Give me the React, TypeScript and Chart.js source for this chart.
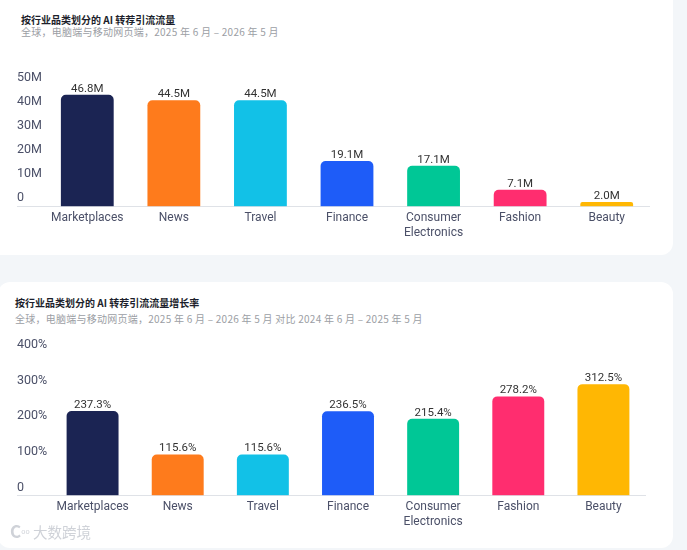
import React, { useEffect, useRef } from "react";
import { Chart, registerables } from "chart.js";

Chart.register(...registerables);

const categories = ["Marketplaces", "News", "Travel", "Finance", "Consumer Electronics", "Fashion", "Beauty"];
const trafficValues = [46.8, 44.5, 44.5, 19.1, 17.1, 7.1, 2.0];
const growthValues = [237.3, 115.6, 115.6, 236.5, 215.4, 278.2, 312.5];
const barColors = ["#1b2453", "#fe7b1c", "#12c1e7", "#1e5cf8", "#00c796", "#ff2d6f", "#ffb703"];
const trafficTicks = [0, 10, 20, 30, 40, 50];
const growthTicks = [0, 100, 200, 300, 400];

const title1 = "按行业品类划分的 AI 转荐引流流量";
const subtitle1 = "全球，电脑端与移动网页端，2025 年 6 月 – 2026 年 5 月";
const title2 = "按行业品类划分的 AI 转荐引流流量增长率";
const subtitle2 = "全球，电脑端与移动网页端，2025 年 6 月 – 2026 年 5 月 对比 2024 年 6 月 – 2025 年 5 月";

const FONT = "Roboto, 'Noto Sans', sans-serif";

const valueLabels = {
  id: "valueLabels",
  afterDatasetsDraw(chart: any, _args: any, opts: any) {
    const { ctx } = chart;
    const meta = chart.getDatasetMeta(0);
    const data = chart.data.datasets[0].data as number[];
    ctx.save();
    ctx.font = `11.5px ${FONT}`;
    ctx.fillStyle = "#333333";
    ctx.textAlign = "center";
    ctx.textBaseline = "alphabetic";
    meta.data.forEach((bar: any, i: number) => {
      ctx.fillText(data[i].toFixed(1) + opts.unit, bar.x, bar.y - 3);
    });
    ctx.restore();
  },
};

type BarProps = {
  values: number[];
  ticks: number[];
  unit: string;
  left: number;
  top: number;
  width: number;
  height: number;
  padLeft: number;
  padRight: number;
  padTop: number;
  yWidth: number;
  xHeight: number;
  labelOffset: number;
};

function BarChart(p: BarProps) {
  const ref = useRef<HTMLCanvasElement | null>(null);
  useEffect(() => {
    if (!ref.current) return;
    const step = p.ticks[1] - p.ticks[0];
    const chart = new Chart(ref.current, {
      type: "bar",
      data: {
        labels: categories,
        datasets: [
          {
            data: p.values,
            backgroundColor: barColors,
            borderRadius: 5,
            borderSkipped: "bottom",
            barPercentage: 0.61,
            categoryPercentage: 1,
          },
        ],
      },
      options: {
        animation: false,
        responsive: true,
        maintainAspectRatio: false,
        layout: { padding: { left: p.padLeft, right: p.padRight, top: p.padTop, bottom: 0 } },
        plugins: {
          legend: { display: false },
          tooltip: { enabled: false },
          valueLabels: { unit: p.unit },
        } as any,
        scales: {
          x: {
            grid: { display: false, drawTicks: false, tickLength: 0 },
            border: { display: false },
            ticks: {
              padding: 3,
              color: "#4b5068",
              font: { family: FONT, size: 12, lineHeight: 1.3 },
              autoSkip: false,
              maxRotation: 0,
              callback: function (this: any, _v: any, i: number) {
                const l = categories[i];
                return l.includes(" ") ? l.split(" ") : l;
              },
            },
            afterFit: (s: any) => {
              s.height = p.xHeight;
            },
          },
          y: {
            min: p.ticks[0],
            max: p.ticks[p.ticks.length - 1],
            border: { display: false },
            grid: {
              display: true,
              drawOnChartArea: true,
              drawTicks: true,
              tickLength: p.yWidth,
              lineWidth: 1,
              color: (c: any) => (c.tick && c.tick.value === 0 ? "#dfe2e7" : "rgba(0,0,0,0)"),
            },
            ticks: {
              stepSize: step,
              padding: 0,
              crossAlign: "far",
              labelOffset: p.labelOffset,
              color: "#4b5068",
              font: { family: FONT, size: 12.5 },
              callback: (v: any) => (v === 0 ? "0" : v + p.unit),
            },
            afterFit: (s: any) => {
              s.width = p.yWidth;
            },
          },
        },
      },
      plugins: [valueLabels],
    } as any);
    return () => chart.destroy();
  }, []);
  return (
    <div style={{ position: "absolute", left: p.left, top: p.top, width: p.width, height: p.height }}>
      <canvas ref={ref} />
    </div>
  );
}

const titleStyle: React.CSSProperties = {
  position: "absolute",
  fontFamily: "'Noto Sans CJK SC', sans-serif",
  fontSize: 10,
  fontWeight: 700,
  lineHeight: "12px",
  color: "#1d1f2c",
  whiteSpace: "nowrap",
};
const subStyle: React.CSSProperties = {
  position: "absolute",
  fontFamily: "'Noto Sans CJK SC', sans-serif",
  fontSize: 10,
  lineHeight: "12px",
  letterSpacing: "0.25px",
  color: "#9b9ea4",
  whiteSpace: "nowrap",
};

export default function App() {
  return (
    <div style={{ position: "absolute", left: 0, top: 0, width: 687, height: 550, background: "#f3f6f9", overflow: "hidden" }}>
      <div style={{ position: "absolute", left: -12, top: -12, width: 685, height: 267, background: "#fff", borderRadius: 12 }} />
      <div style={{ position: "absolute", left: -2, top: 282, width: 675, height: 266, background: "#fff", borderRadius: 12 }} />
      <div style={{ ...titleStyle, left: 21, top: 14 }}>{title1}</div>
      <div style={{ ...subStyle, left: 21, top: 26 }}>{subtitle1}</div>
      <div style={{ ...titleStyle, left: 15, top: 297 }}>{title2}</div>
      <div style={{ ...subStyle, left: 15, top: 313 }}>{subtitle2}</div>
      <BarChart
        values={trafficValues}
        ticks={trafficTicks}
        unit="M"
        left={0}
        top={60}
        width={673}
        height={200}
        padLeft={17}
        padRight={23}
        padTop={27.2}
        yWidth={27}
        xHeight={53.3}
        labelOffset={-9}
      />
      <BarChart
        values={growthValues}
        ticks={growthTicks}
        unit="%"
        left={0}
        top={330}
        width={673}
        height={210}
        padLeft={17}
        padRight={27}
        padTop={22.9}
        yWidth={33}
        xHeight={44.3}
        labelOffset={-8}
      />
      <div
        style={{
          position: "absolute",
          left: 10,
          top: 521,
          fontFamily: "'Noto Sans CJK SC', sans-serif",
          fontSize: 14.5,
          lineHeight: "20px",
          color: "#cfd2d8",
          whiteSpace: "nowrap",
        }}
      >
        <span style={{ fontWeight: 700, fontSize: 17 }}>C</span>
        <span style={{ fontSize: 7, verticalAlign: "top" }}>oo</span> 大数跨境
      </div>
    </div>
  );
}
